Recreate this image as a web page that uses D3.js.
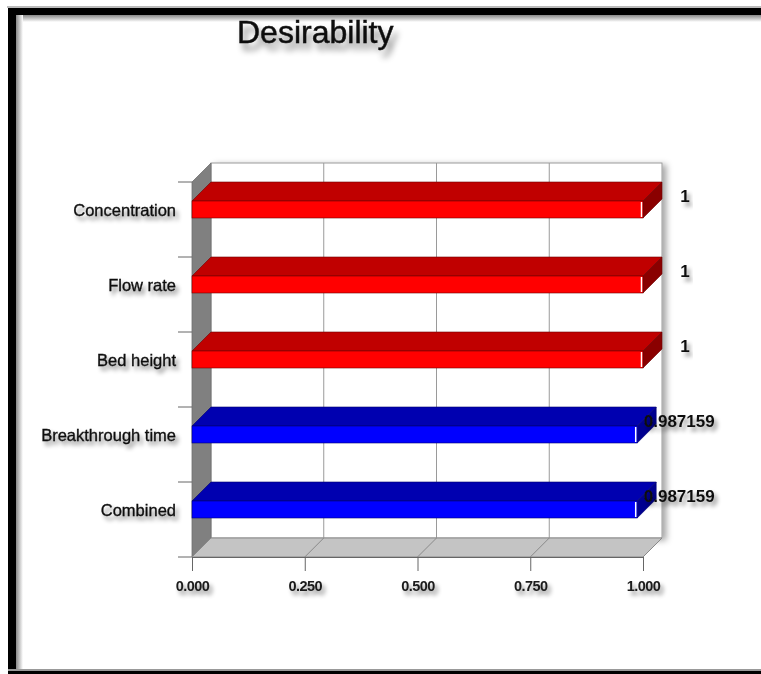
<!DOCTYPE html>
<html>
<head>
<meta charset="utf-8">
<script src="https://cdn.jsdelivr.net/npm/d3@7"></script>
<style>
  html, body { margin: 0; padding: 0; background: #fff; }
  svg { display: block; font-family: "Liberation Sans", Arial, sans-serif; }
</style>
</head>
<body>
<svg id="chart" width="761" height="674"></svg>
<script>
// Desirability of each factor and of the combined response
const categories = ["Concentration", "Flow rate", "Bed height", "Breakthrough time", "Combined"];
const values = [1, 1, 1, 0.987159, 0.987159];
const valueLabels = ["1", "1", "1", "0.987159", "0.987159"];
const groups = ["factor", "factor", "factor", "response", "response"];
const xTicks = [0, 0.25, 0.5, 0.75, 1];
const title = "Desirability";

const palette = {
  factor:   { front: "#ff0000", top: "#c00000", side: "#8a0000", edge: "#700000" },
  response: { front: "#0000ff", top: "#0000b0", side: "#000090", edge: "#000070" }
};

const svg = d3.select("#chart");
const defs = svg.append("defs");

// soft drop shadows for text and the back wall
function shadow(id, dx, dy, sd, op) {
  const f = defs.append("filter").attr("id", id)
    .attr("x", "-20%").attr("y", "-40%").attr("width", "150%").attr("height", "200%");
  f.append("feDropShadow").attr("dx", dx).attr("dy", dy)
    .attr("stdDeviation", sd).attr("flood-color", "#000").attr("flood-opacity", op);
}
shadow("txtShadow", 3, 4, 2.2, 0.45);
shadow("titleShadow", 4, 7, 3, 0.45);
shadow("wallShadow", 4, 2, 3, 0.35);

// frame gradients (inner shading along the black border)
const gTop = defs.append("linearGradient").attr("id", "gTop").attr("x1", 0).attr("y1", 0).attr("x2", 0).attr("y2", 1);
gTop.append("stop").attr("offset", 0).attr("stop-color", "#888");
gTop.append("stop").attr("offset", 1).attr("stop-color", "#fff");
const gLeft = defs.append("linearGradient").attr("id", "gLeft").attr("x1", 0).attr("y1", 0).attr("x2", 1).attr("y2", 0);
gLeft.append("stop").attr("offset", 0).attr("stop-color", "#888");
gLeft.append("stop").attr("offset", 1).attr("stop-color", "#fff");

// outer frame
const frame = svg.append("g");
frame.append("rect").attr("x", 16).attr("y", 15).attr("width", 745).attr("height", 7).attr("fill", "url(#gTop)");
frame.append("rect").attr("x", 16).attr("y", 15).attr("width", 7).attr("height", 656).attr("fill", "url(#gLeft)");
frame.append("rect").attr("x", 7).attr("y", 6).attr("width", 754).attr("height", 2).attr("fill", "#bbb");
frame.append("rect").attr("x", 8).attr("y", 8).attr("width", 753).attr("height", 7).attr("fill", "#000");
frame.append("rect").attr("x", 8).attr("y", 8).attr("width", 8).attr("height", 666).attr("fill", "#000");
frame.append("rect").attr("x", 8).attr("y", 669).attr("width", 753).attr("height", 2).attr("fill", "#999");
frame.append("rect").attr("x", 8).attr("y", 671).attr("width", 753).attr("height", 3).attr("fill", "#000");

// title
svg.append("text")
  .attr("x", 237).attr("y", 43)
  .attr("font-size", 32)
  .attr("fill", "#111")
  .attr("stroke", "#111").attr("stroke-width", 0.5)
  .attr("filter", "url(#titleShadow)")
  .text(title);

// scales (front plane) and depth offset for the 3D look
const x = d3.scaleLinear().domain([0, 1]).range([192, 643]);
const y = d3.scaleBand().domain(categories).range([182, 557]);
const dx = 19, dy = -19;
const x0 = x(0), x1 = x(1);
const yTop = y.range()[0], yBot = y.range()[1];

const plot = svg.append("g");

// back wall
plot.append("rect")
  .attr("x", x0 + dx).attr("y", yTop + dy)
  .attr("width", x1 - x0).attr("height", yBot - yTop)
  .attr("fill", "#fff").attr("stroke", "#9a9a9a").attr("stroke-width", 1)
  .attr("filter", "url(#wallShadow)");

// vertical grid lines on the back wall
plot.selectAll("line.grid").data(xTicks.slice(1, -1)).join("line")
  .attr("class", "grid")
  .attr("x1", d => x(d) + dx).attr("x2", d => x(d) + dx)
  .attr("y1", yTop + dy).attr("y2", yBot + dy)
  .attr("stroke", "#9a9a9a");

// left side wall
plot.append("polygon")
  .attr("points", [[x0, yTop], [x0 + dx, yTop + dy], [x0 + dx, yBot + dy], [x0, yBot]].join(" "))
  .attr("fill", "#808080").attr("stroke", "#6e6e6e").attr("stroke-width", 0.8);

// floor
plot.append("polygon")
  .attr("points", [[x0, yBot], [x0 + dx, yBot + dy], [x1 + dx, yBot + dy], [x1, yBot]].join(" "))
  .attr("fill", "#c4c4c4").attr("stroke", "#8a8a8a").attr("stroke-width", 1);

plot.selectAll("line.floor").data(xTicks.slice(1, -1)).join("line")
  .attr("class", "floor")
  .attr("x1", d => x(d) + dx).attr("x2", d => x(d))
  .attr("y1", yBot + dy).attr("y2", yBot)
  .attr("stroke", "#8a8a8a");

// category ticks at band boundaries
const boundaries = categories.map(c => y(c)).concat([yBot]);
plot.selectAll("line.ytick").data(boundaries).join("line")
  .attr("class", "ytick")
  .attr("x1", x0 - 14).attr("x2", x0)
  .attr("y1", d => d).attr("y2", d => d)
  .attr("stroke", "#666");

// bottom value axis
const xAxis = d3.axisBottom(x).tickValues(xTicks).tickFormat(d3.format(".3f")).tickSizeInner(14).tickSizeOuter(0);
const axisG = plot.append("g").attr("transform", `translate(0,${yBot})`).call(xAxis);
axisG.select(".domain").attr("stroke", "#666");
axisG.selectAll(".tick line").attr("stroke", "#666");
axisG.selectAll(".tick text")
  .attr("y", 34).attr("dy", 0)
  .attr("font-size", 14.5).attr("font-weight", "bold")
  .attr("font-family", "'Liberation Sans', Arial, sans-serif")
  .attr("letter-spacing", -0.6)
  .attr("fill", "#1a1a1a")
  .attr("filter", "url(#txtShadow)");

// 3D bars
const barOffset = 19, barH = 17;
const data = categories.map((c, i) => ({ c, v: values[i], label: valueLabels[i], g: groups[i] }));

const bars = plot.selectAll("g.bar").data(data).join("g").attr("class", "bar");
bars.each(function (d) {
  const g = d3.select(this);
  const col = palette[d.g];
  const t = y(d.c) + barOffset, b = t + barH, xr = x(d.v);
  g.append("polygon")
    .attr("points", [[x0, t], [x0 + dx, t + dy], [xr + dx, t + dy], [xr, t]].join(" "))
    .attr("fill", col.top).attr("stroke", col.edge).attr("stroke-width", 0.6);
  g.append("polygon")
    .attr("points", [[xr, t], [xr + dx, t + dy], [xr + dx, b + dy], [xr, b]].join(" "))
    .attr("fill", col.side).attr("stroke", col.edge).attr("stroke-width", 0.6);
  g.append("rect")
    .attr("x", x0).attr("y", t).attr("width", xr - x0).attr("height", barH)
    .attr("fill", col.front).attr("stroke", col.edge).attr("stroke-width", 0.6);
  g.append("line")
    .attr("x1", xr - 1.5).attr("x2", xr - 1.5).attr("y1", t + 1).attr("y2", b - 1)
    .attr("stroke", "#fff").attr("stroke-width", 1.5);
});

// category labels
plot.selectAll("text.cat").data(data).join("text")
  .attr("class", "cat")
  .attr("x", 176)
  .attr("y", d => y(d.c) + barOffset + barH / 2 + 6)
  .attr("text-anchor", "end")
  .attr("font-size", 16.5)
  .attr("fill", "#111")
  .attr("stroke", "#111").attr("stroke-width", 0.35)
  .attr("filter", "url(#txtShadow)")
  .text(d => d.c);

// value labels
plot.selectAll("text.val").data(data).join("text")
  .attr("class", "val")
  .attr("x", d => x(d.v) + 42)
  .attr("y", d => y(d.c) + 20)
  .attr("text-anchor", "middle")
  .attr("font-size", 17)
  .attr("font-weight", "bold")
  .attr("fill", "#111")
  .attr("filter", "url(#txtShadow)")
  .text(d => d.label);
</script>
</body>
</html>
